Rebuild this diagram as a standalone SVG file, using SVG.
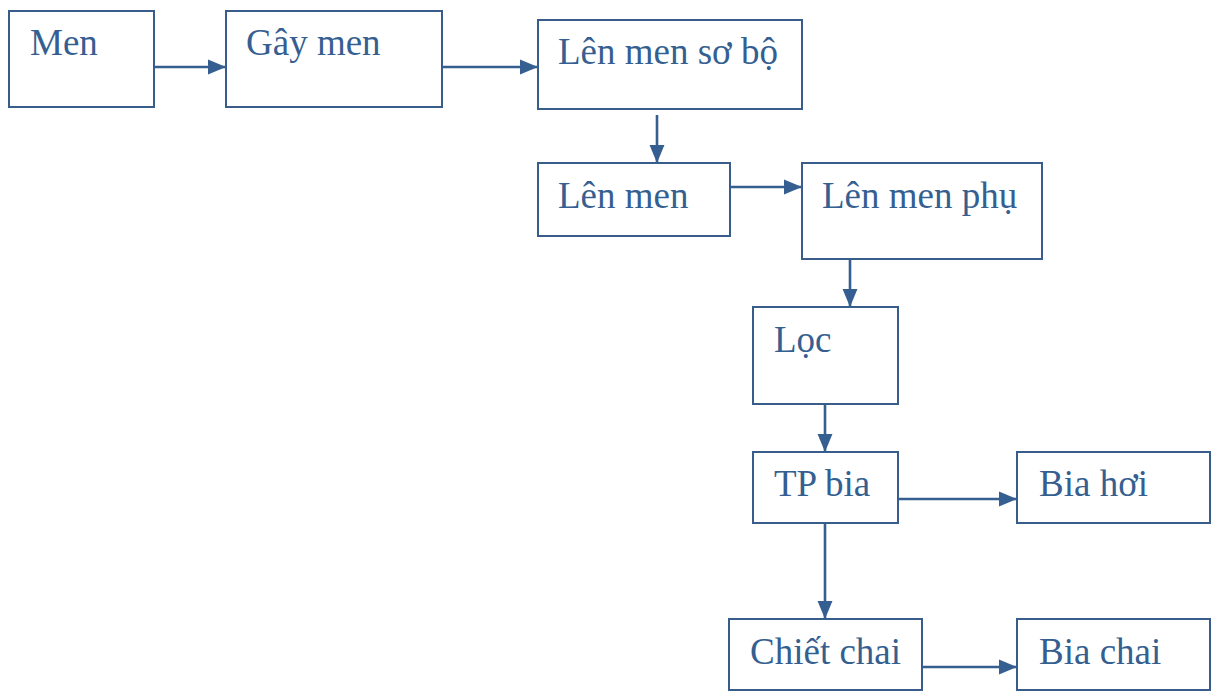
<svg xmlns="http://www.w3.org/2000/svg" width="1214" height="692" viewBox="0 0 1214 692">
<defs>
<marker id="ah" markerWidth="7" markerHeight="7" refX="7" refY="3.5" orient="auto" markerUnits="strokeWidth">
<path d="M0,0.6 L7,3.5 L0,6.4 Z" fill="#365F91"/>
</marker>
<style>
.box{fill:#fff;stroke:#385D8A;stroke-width:2}
.t{font-family:"Liberation Serif","Times New Roman",serif;font-size:37px;fill:#365F91}
.c{stroke:#365F91;stroke-width:2.6;fill:none;marker-end:url(#ah)}
</style>
</defs>
<rect width="1214" height="692" fill="#fff"/>
<g id="n-men"><rect class="box" x="9" y="11" width="145" height="96"/><text class="t" x="30" y="55">Men</text></g>
<g id="n-gaymen"><rect class="box" x="226" y="11" width="216" height="96"/><text class="t" x="246" y="55">Gây men</text></g>
<g id="n-lenmensobo"><rect class="box" x="538" y="20" width="264" height="89"/><text class="t" x="558" y="64">Lên men sơ bộ</text></g>
<g id="n-lenmen"><rect class="box" x="538" y="163" width="192" height="73"/><text class="t" x="558" y="208">Lên men</text></g>
<g id="n-lenmenphu"><rect class="box" x="802" y="163" width="240" height="96"/><text class="t" x="822" y="208">Lên men phụ</text></g>
<g id="n-loc"><rect class="box" x="753" y="307" width="145" height="97"/><text class="t" x="774" y="352">Lọc</text></g>
<g id="n-tpbia"><rect class="box" x="753" y="452" width="145" height="71"/><text class="t" x="774" y="496">TP bia</text></g>
<g id="n-biahoi"><rect class="box" x="1017" y="452" width="193" height="71"/><text class="t" x="1039" y="496">Bia hơi</text></g>
<g id="n-chietchai"><rect class="box" x="729" y="619" width="193" height="71"/><text class="t" x="750" y="664">Chiết chai</text></g>
<g id="n-biachai"><rect class="box" x="1017" y="619" width="193" height="71"/><text class="t" x="1039" y="664">Bia chai</text></g>
<g id="connectors">
<line class="c" x1="154" y1="67" x2="226" y2="67"/>
<line class="c" x1="442" y1="67" x2="538" y2="67"/>
<line class="c" x1="657" y1="115" x2="657" y2="163"/>
<line class="c" x1="730" y1="187" x2="802" y2="187"/>
<line class="c" x1="850" y1="259" x2="850" y2="307"/>
<line class="c" x1="825" y1="404" x2="825" y2="452"/>
<line class="c" x1="898" y1="499" x2="1017" y2="499"/>
<line class="c" x1="825" y1="523" x2="825" y2="619"/>
<line class="c" x1="922" y1="667" x2="1017" y2="667"/>
</g>
</svg>
